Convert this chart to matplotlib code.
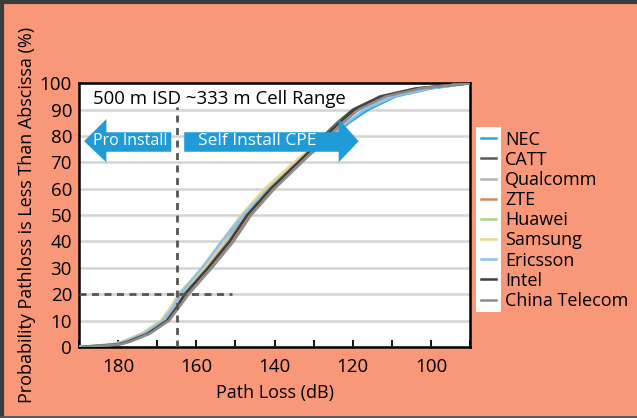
import matplotlib
matplotlib.use("Agg")
import matplotlib.pyplot as plt
import matplotlib.patches as patches
from matplotlib.lines import Line2D

plt.rcParams['font.family'] = ['Open Sans', 'DejaVu Sans']

# percentile levels (%) and path loss (dB) read for each vendor
pct = [0, 1, 2, 5, 10, 15, 20, 25, 30, 40, 50, 60, 70, 80, 85, 90, 95, 98, 100]

vendors = ["NEC", "CATT", "Qualcomm", "ZTE", "Huawei", "Samsung", "Ericsson", "Intel", "China Telecom"]
colors = ["#2aa6de", "#5a5a5a", "#b4b4b4", "#cf8a5e", "#a9d38f", "#ead58a", "#93c0ea", "#3e3e3e", "#8c8c8c"]

pathloss = {
    "NEC":           [189, 180.5, 178.0, 173.5, 168.5, 166.0, 164.0, 161.2, 158.5, 153.0, 148.0, 141.0, 133.5, 125.0, 121.0, 116.0, 109.0, 100.0, 90],
    "CATT":          [189, 180.0, 177.5, 172.5, 167.5, 165.0, 162.5, 159.8, 157.0, 151.5, 147.0, 141.5, 134.5, 127.5, 124.0, 120.0, 113.0, 104.0, 90],
    "Qualcomm":      [189, 180.0, 177.5, 173.0, 168.0, 165.5, 163.0, 160.2, 157.5, 152.0, 147.5, 141.5, 134.0, 126.5, 123.0, 118.5, 111.0, 102.0, 90],
    "ZTE":           [189, 179.5, 177.0, 172.0, 167.0, 164.5, 162.0, 159.2, 156.5, 151.0, 146.5, 140.5, 133.5, 126.5, 123.0, 119.0, 112.0, 103.0, 90],
    "Huawei":        [190, 181.0, 178.5, 174.0, 169.0, 166.5, 164.5, 161.5, 158.5, 153.5, 148.5, 142.0, 134.5, 127.0, 123.5, 119.0, 111.5, 102.5, 90],
    "Samsung":       [190, 181.5, 179.0, 174.0, 169.0, 166.5, 164.0, 161.0, 158.0, 153.0, 148.5, 142.5, 135.0, 127.0, 123.5, 119.0, 111.5, 102.0, 90],
    "Ericsson":      [190, 181.0, 178.5, 173.5, 168.5, 166.0, 164.0, 161.3, 158.5, 153.5, 148.0, 141.5, 133.5, 125.5, 121.5, 117.0, 109.5, 100.5, 90],
    "Intel":         [189, 180.0, 177.5, 172.5, 167.5, 165.0, 163.0, 160.0, 157.0, 151.5, 147.0, 141.0, 134.0, 127.0, 123.5, 119.5, 112.5, 103.5, 90],
    "China Telecom": [189, 179.5, 177.0, 172.0, 167.0, 164.5, 162.0, 159.0, 156.0, 150.5, 146.0, 140.0, 133.0, 126.0, 122.5, 118.5, 111.5, 102.5, 90],
}

bg = "#f89878"
arrow_blue = "#1f9bd7"

fig = plt.figure(figsize=(6.37, 4.18), dpi=100, facecolor=bg)
ax = fig.add_axes([0.124, 0.170, 0.614, 0.631])
ax.set_facecolor("white")

for name, col in zip(vendors, colors):
    ax.plot(pathloss[name], pct, color=col, lw=1.8, label=name, zorder=3)

# grid
ax.set_yticks(range(0, 101, 10))
ax.yaxis.grid(True, color="#d4d4d4", lw=1.8, zorder=0)
ax.set_axisbelow(True)

ax.set_xlim(190, 90)
ax.set_ylim(0, 100)
ax.set_xticks(range(180, 90, -20))
ax.set_xticks(range(190, 89, -10), minor=True)
ax.tick_params(axis="x", which="both", direction="in", length=5, width=1.3, color="black", pad=8, labelsize=13.5)
ax.tick_params(axis="y", length=0, pad=5, labelsize=13.5)
for s in ax.spines.values():
    s.set_linewidth(1.8)
    s.set_color("black")

ax.set_xlabel("Path Loss (dB)", fontsize=13, labelpad=6)
ax.set_ylabel("Probability Pathloss is Less Than Abscissa (%)", fontsize=13, labelpad=3)

# reference lines
ax.plot([165, 165], [0, 91], ls=(0, (2.5, 2)), color="#555555", lw=2, zorder=4)
ax.plot([190, 151], [20, 20], ls=(0, (2.5, 2)), color="#555555", lw=2, zorder=4)

ax.text(186.3, 94, "500 m ISD ~333 m Cell Range", fontsize=13.4, va="center", ha="left", zorder=6)

# install arrows
pro = patches.Polygon([(188.7, 78), (183, 86.4), (183, 81.4), (166.4, 81.4),
                       (166.4, 74), (183, 74), (183, 70)],
                      closed=True, facecolor=arrow_blue, edgecolor="none", zorder=5)
selfi = patches.Polygon([(163.1, 81.4), (123.6, 81.4), (123.6, 86.4), (118.5, 78),
                         (123.6, 70), (123.6, 74), (163.1, 74)],
                        closed=True, facecolor=arrow_blue, edgecolor="none", zorder=5)
ax.add_patch(pro)
ax.add_patch(selfi)
ax.text(177.0, 78, "Pro Install", color="white", fontsize=11.5, ha="center", va="center", zorder=6)
ax.text(144.5, 78, "Self Install CPE", color="white", fontsize=12.5, ha="center", va="center", zorder=6)

# legend: white strip behind the handles only
fig.patches.append(patches.Rectangle((476 / 637, 1 - 312 / 418), 25 / 637, 185 / 418,
                                     transform=fig.transFigure, facecolor="white",
                                     edgecolor="none", zorder=1))
handles = [Line2D([0], [0], color=c, lw=1.8) for c in colors]
fig.legend(handles, vendors, loc="upper left", bbox_to_anchor=(477 / 637, 1 - 127 / 418),
           frameon=False, fontsize=13, handlelength=0.85, handletextpad=0.5,
           labelspacing=0.12, borderpad=0.2, borderaxespad=0)

# figure border (top, left, bottom)
fig.add_artist(Line2D([0, 1], [0.996, 0.996], color="#3c3c3c", lw=3, transform=fig.transFigure))
fig.add_artist(Line2D([0.003, 0.003], [0, 1], color="#3c3c3c", lw=3, transform=fig.transFigure))
fig.add_artist(Line2D([0, 1], [0.003, 0.003], color="#555555", lw=2, transform=fig.transFigure))

fig.savefig("out.png", dpi=100, facecolor=bg)
